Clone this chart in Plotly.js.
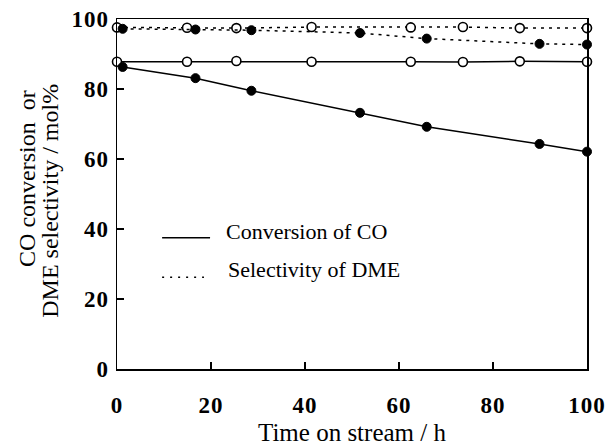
<!DOCTYPE html>
<html><head><meta charset="utf-8">
<script src="https://cdn.plot.ly/plotly-3.0.1.min.js"></script>
<style>
html,body{margin:0;padding:0;background:#fff}
.xtick text, .ytick text{letter-spacing:1px}
</style>
</head><body><div id="chart" style="width:607px;height:447px"></div>
<script>
// Data
const timeFilled = [1.2, 16.7, 28.6, 51.7, 65.9, 89.9, 100];
const convFilled = [86.3, 83.1, 79.5, 73.2, 69.2, 64.3, 62.1];
const selFilled  = [97.2, 97.0, 96.8, 96.0, 94.4, 92.9, 92.7];
const timeOpen = [0, 14.9, 25.4, 41.4, 62.5, 73.6, 85.7, 100];
const convOpen = [87.8, 87.8, 88.0, 87.8, 87.8, 87.7, 87.9, 87.8];
const selOpen  = [97.6, 97.5, 97.4, 97.7, 97.6, 97.7, 97.4, 97.4];
const legendLabels = ['Conversion of CO', 'Selectivity of DME'];
const xTicks = [0, 20, 40, 60, 80, 100];
const yTicks = [0, 20, 40, 60, 80, 100];
const xTitle = 'Time on stream / h';
const yTitleLines = ['CO conversion  or', 'DME selectivity / mol%'];

const FONT = 'Liberation Serif, Times New Roman, serif';
const solid = {color: '#000', width: 1.5};
const dotted = {color: '#000', width: 1.5, dash: '3px,5px'};
const openMarker = {symbol: 'circle', size: 9, color: '#fff', line: {color: '#000', width: 1.6}};
const fillMarker = {symbol: 'circle', size: 9, color: '#000', line: {color: '#000', width: 1}};

const traces = [
  {x: timeOpen, y: convOpen, mode: 'lines+markers', line: solid, marker: openMarker, cliponaxis: false, name: 'conv open'},
  {x: timeOpen, y: selOpen, mode: 'lines+markers', line: dotted, marker: openMarker, cliponaxis: false, name: 'sel open'},
  {x: timeFilled, y: convFilled, mode: 'lines+markers', line: solid, marker: fillMarker, cliponaxis: false, name: 'conv filled'},
  {x: timeFilled, y: selFilled, mode: 'lines+markers', line: dotted, marker: fillMarker, cliponaxis: false, name: 'sel filled'}
];

const axisCommon = {
  showline: true, linewidth: 1.5, linecolor: '#000', mirror: true,
  ticks: 'inside', ticklen: 7, tickwidth: 1.5, tickcolor: '#000',
  showgrid: false, zeroline: false, fixedrange: true,
  ticklabeloverflow: 'allow',
  tickfont: {family: FONT, size: 23, color: '#000', weight: 'bold'}
};

const layout = {
  width: 607, height: 447,
  margin: {l: 117, r: 20, t: 19, b: 78},
  paper_bgcolor: '#fff', plot_bgcolor: '#fff',
  showlegend: false,
  font: {family: FONT, color: '#000'},
  xaxis: Object.assign({}, axisCommon, {
    range: [0, 100], tickvals: xTicks, ticktext: xTicks.map(String),
    ticklabelstandoff: 15,
    title: {text: xTitle, font: {family: FONT, size: 25, color: '#000'}, standoff: 6}
  }),
  yaxis: Object.assign({}, axisCommon, {
    range: [0, 100], tickvals: yTicks, ticktext: yTicks.map(String),
    ticklabelstandoff: 2
  }),
  shapes: [
    {type: 'line', xref: 'paper', yref: 'paper', x0: 0.096, x1: 0.198, y0: 0.375, y1: 0.375, line: {color: '#000', width: 1.5}},
    {type: 'line', xref: 'paper', yref: 'paper', x0: 0.096, x1: 0.185, y0: 0.262, y1: 0.262, line: {color: '#000', width: 1.5, dash: '2px,6px'}}
  ],
  annotations: [
    {text: legendLabels[0], xref: 'paper', yref: 'paper', x: 0.228, y: 0.394, xanchor: 'left', yanchor: 'middle', showarrow: false, font: {family: FONT, size: 22, color: '#000'}},
    {text: legendLabels[1], xref: 'paper', yref: 'paper', x: 0.232, y: 0.283, xanchor: 'left', yanchor: 'middle', showarrow: false, font: {family: FONT, size: 22, color: '#000'}},
    {text: yTitleLines[0], xref: 'paper', yref: 'paper', x: -0.19, y: 0.545, xanchor: 'center', yanchor: 'middle', textangle: -90, showarrow: false, font: {family: FONT, size: 24, color: '#000'}},
    {text: yTitleLines[1], xref: 'paper', yref: 'paper', x: -0.143, y: 0.48, xanchor: 'center', yanchor: 'middle', textangle: -90, showarrow: false, font: {family: FONT, size: 24, color: '#000'}}
  ]
};

Plotly.newPlot('chart', traces, layout, {displayModeBar: false, staticPlot: true});
</script>
</body></html>
